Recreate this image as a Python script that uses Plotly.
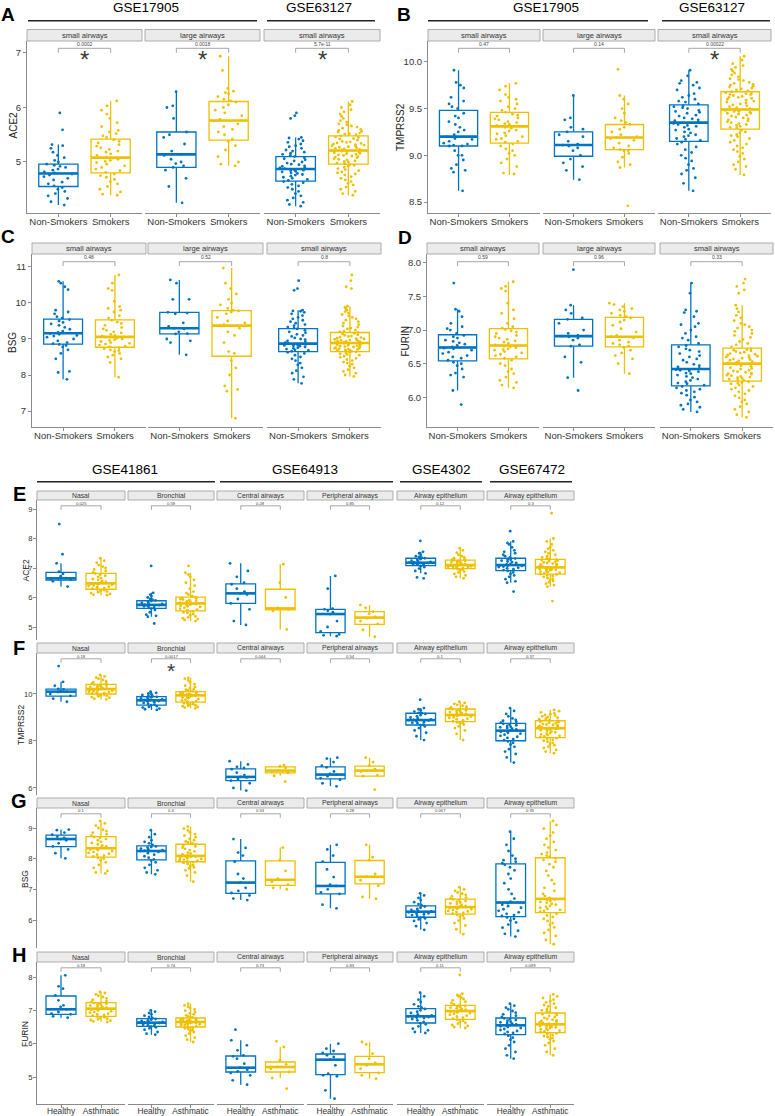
import plotly.graph_objects as go

W, H = 775, 1116
FONT = "Liberation Sans, Arial, sans-serif"
COLORS = ["#0073C2", "#EFC000"]
GREY = "#8a8a8a"

# ---------------- categories / labels ----------------
smoke_groups = ["Non-Smokers", "Smokers"]
asthma_groups = ["Healthy", "Asthmatic"]
smoke_facets = ["small airways", "large airways", "small airways"]
asthma_facets = ["Nasal", "Bronchial", "Central airways", "Peripheral airways",
                 "Airway epithelium", "Airway epithelium"]
genes = ["ACE2", "TMPRSS2", "BSG", "FURIN"]
smoke_datasets = ["GSE17905", "GSE63127"]
asthma_datasets = ["GSE41861", "GSE64913", "GSE4302", "GSE67472"]

# ---------------- p-values and significance stars ----------------
A_p = ["0.0002", "0.0018", "5.7e-11"]; A_star = [1, 1, 1]
B_p = ["0.47", "0.14", "0.00022"]; B_star = [0, 0, 1]
C_p = ["0.48", "0.52", "0.8"]; C_star = [0, 0, 0]
D_p = ["0.59", "0.96", "0.33"]; D_star = [0, 0, 0]
E_p = ["0.025", "0.59", "0.28", "0.85", "0.12", "0.3"]; E_star = [0, 0, 0, 0, 0, 0]
F_p = ["0.18", "0.0017", "0.044", "0.54", "0.1", "0.37"]; F_star = [0, 1, 0, 0, 0, 0]
G_p = ["0.1", "0.4", "0.53", "0.28", "0.067", "0.35"]; G_star = [0, 0, 0, 0, 0, 0]
H_p = ["0.18", "0.74", "0.73", "0.83", "0.11", "0.099"]; H_star = [0, 0, 0, 0, 0, 0]

# ---------------- box statistics (order: group0, group1 per facet) ----------------
A_lf = [4.21, 4.39, 4.25, 4.93, 4.19, 4.39]
A_q1 = [4.55, 4.80, 4.90, 5.40, 4.65, 4.96]
A_med = [4.79, 5.08, 5.14, 5.76, 4.87, 5.21]
A_q3 = [4.96, 5.42, 5.55, 6.11, 5.10, 5.48]
A_uf = [5.32, 6.12, 6.29, 6.94, 5.45, 6.11]

B_lf = [8.62, 8.79, 8.74, 8.87, 8.62, 8.79]
B_q1 = [9.10, 9.13, 8.99, 9.06, 9.15, 9.28]
B_med = [9.20, 9.31, 9.11, 9.19, 9.35, 9.49]
B_q3 = [9.48, 9.46, 9.25, 9.33, 9.54, 9.68]
B_uf = [9.91, 9.77, 9.64, 9.64, 9.91, 10.06]

C_lf = [7.88, 7.94, 8.56, 6.80, 7.77, 7.96]
C_q1 = [8.86, 8.77, 9.14, 8.52, 8.65, 8.65]
C_med = [9.16, 9.06, 9.30, 9.37, 8.87, 8.89]
C_q3 = [9.55, 9.53, 9.74, 9.79, 9.29, 9.18]
C_uf = [10.60, 10.78, 10.64, 10.97, 9.80, 9.91]

D_lf = [6.10, 6.14, 6.29, 6.35, 5.78, 5.70]
D_q1 = [6.54, 6.57, 6.76, 6.75, 6.17, 6.24]
D_med = [6.74, 6.77, 6.91, 6.90, 6.42, 6.50]
D_q3 = [6.93, 7.02, 7.16, 7.19, 6.78, 6.73]
D_uf = [7.31, 7.72, 7.37, 7.40, 7.70, 7.37]

E_lf = [6.37, 6.08, 5.35, 5.20, 5.07, 4.92, 4.69, 4.67, 6.82, 6.65, 6.50, 6.37]
E_q1 = [6.59, 6.28, 5.63, 5.55, 5.80, 5.58, 4.81, 5.09, 7.08, 6.98, 6.91, 6.79]
E_med = [6.65, 6.48, 5.75, 5.80, 6.14, 5.63, 5.44, 5.32, 7.18, 7.10, 7.10, 7.02]
E_q3 = [6.85, 6.82, 5.89, 6.01, 6.46, 6.28, 5.60, 5.52, 7.33, 7.27, 7.33, 7.29]
E_uf = [7.16, 7.33, 6.16, 6.84, 7.16, 7.13, 6.73, 5.75, 7.55, 7.67, 7.90, 8.00]

F_lf = [9.67, 9.77, 9.32, 9.39, 5.89, 6.52, 6.07, 6.50, 8.04, 8.04, 7.08, 7.48]
F_q1 = [9.91, 10.00, 9.53, 9.65, 6.31, 6.64, 6.39, 6.50, 8.68, 8.82, 8.01, 8.14]
F_med = [10.10, 10.21, 9.73, 9.94, 6.47, 6.74, 6.57, 6.74, 8.89, 9.11, 8.44, 8.54]
F_q3 = [10.21, 10.41, 9.89, 10.10, 6.81, 6.90, 6.90, 6.93, 9.18, 9.36, 8.75, 8.86]
F_uf = [10.52, 10.81, 10.10, 10.69, 7.14, 6.97, 7.29, 7.29, 9.40, 9.67, 9.40, 9.32]

G_lf = [8.01, 7.52, 7.49, 7.25, 6.65, 7.00, 6.38, 6.69, 5.68, 5.54, 5.46, 5.21]
G_q1 = [8.39, 8.05, 7.96, 7.90, 6.87, 7.13, 6.85, 7.18, 6.09, 6.19, 6.11, 6.24]
G_med = [8.64, 8.34, 8.25, 8.09, 7.22, 7.31, 7.11, 7.41, 6.27, 6.42, 6.57, 6.69]
G_q3 = [8.77, 8.72, 8.42, 8.47, 7.93, 7.93, 7.88, 7.94, 6.46, 6.68, 7.83, 8.03]
G_uf = [8.95, 9.23, 8.93, 9.04, 8.64, 8.36, 8.45, 8.45, 6.87, 7.07, 8.88, 9.23]

H_lf = [6.78, 6.65, 6.27, 6.05, 4.77, 4.97, 4.35, 4.95, 6.32, 6.47, 5.55, 5.65]
H_q1 = [6.88, 6.82, 6.52, 6.50, 5.15, 5.15, 5.07, 5.13, 6.62, 6.73, 6.27, 6.33]
H_med = [7.03, 7.05, 6.63, 6.65, 5.28, 5.30, 5.52, 5.38, 6.82, 6.98, 6.55, 6.58]
H_q3 = [7.43, 7.23, 6.75, 6.77, 5.63, 5.45, 5.69, 5.62, 7.05, 7.15, 6.77, 6.92]
H_uf = [8.05, 7.55, 7.00, 7.20, 6.10, 5.90, 6.00, 6.05, 7.53, 7.50, 7.20, 7.48]

# ---------------- sample points ----------------
# A: ACE2, smokers
A_ns1 = [4.21, 4.27, 4.33, 4.38, 4.42, 4.46, 4.5, 4.53, 4.56, 4.6, 4.63, 4.67, 4.7, 4.73, 4.76, 4.78, 4.8, 4.82, 4.85,
         4.87, 4.9, 4.92, 4.94, 4.96, 5.0, 5.03, 5.08, 5.12, 5.18, 5.25, 5.3, 5.32, 5.59, 5.9]
A_s1 = [4.39, 4.41, 4.45, 4.5, 4.55, 4.6, 4.64, 4.68, 4.72, 4.75, 4.78, 4.81, 4.84, 4.87, 4.9, 4.93, 4.96, 4.99, 5.01,
        5.03, 5.05, 5.07, 5.09, 5.12, 5.15, 5.18, 5.2, 5.23, 5.26, 5.29, 5.32, 5.35, 5.38, 5.41, 5.45, 5.48, 5.52, 5.55,
        5.58, 5.65, 5.72, 5.8, 5.88, 5.95, 6.03, 6.12]
A_ns2 = [4.25, 4.55, 4.7, 4.85, 4.9, 4.93, 4.97, 5.0, 5.05, 5.12, 5.14, 5.2, 5.33, 5.45, 5.5, 5.55, 5.8, 6.0, 6.03, 6.29]
A_s2 = [4.93, 4.96, 5.0, 5.1, 5.22, 5.3, 5.38, 5.42, 5.5, 5.55, 5.6, 5.65, 5.7, 5.75, 5.78, 5.85, 5.9, 5.95, 6.0, 6.05,
        6.1, 6.12, 6.15, 6.2, 6.25, 6.27, 6.3, 6.35, 6.68, 6.94]
A_ns3 = [4.19, 4.22, 4.26, 4.3, 4.34, 4.38, 4.42, 4.46, 4.5, 4.53, 4.56, 4.59, 4.62, 4.64, 4.66, 4.68, 4.7, 4.72, 4.74,
         4.76, 4.77, 4.79, 4.8, 4.82, 4.83, 4.84, 4.85, 4.86, 4.88, 4.89, 4.9, 4.92, 4.93, 4.95, 4.96, 4.98, 5.0, 5.02,
         5.04, 5.06, 5.08, 5.1, 5.12, 5.14, 5.16, 5.18, 5.2, 5.22, 5.25, 5.28, 5.3, 5.33, 5.36, 5.39, 5.42, 5.44, 5.45,
         5.8, 5.85, 5.9]
A_s3 = [4.39, 4.42, 4.46, 4.5, 4.54, 4.58, 4.61, 4.64, 4.67, 4.7, 4.73, 4.76, 4.78, 4.8, 4.82, 4.84, 4.86, 4.88, 4.9,
        4.92, 4.94, 4.95, 4.97, 4.98, 5.0, 5.01, 5.02, 5.04, 5.05, 5.06, 5.08, 5.09, 5.1, 5.11, 5.12, 5.13, 5.14, 5.15,
        5.16, 5.17, 5.18, 5.19, 5.2, 5.21, 5.22, 5.23, 5.24, 5.25, 5.26, 5.27, 5.28, 5.29, 5.3, 5.31, 5.32, 5.33, 5.34,
        5.35, 5.36, 5.37, 5.38, 5.4, 5.42, 5.43, 5.45, 5.46, 5.48, 5.5, 5.51, 5.52, 5.53, 5.55, 5.56, 5.58, 5.6, 5.62,
        5.64, 5.66, 5.68, 5.7, 5.73, 5.76, 5.8, 5.84, 5.88, 5.92, 5.96, 6.0, 6.05, 6.11]
# B: TMPRSS2, smokers
B_ns1 = [8.62, 8.82, 8.84, 8.86, 8.9, 8.95, 9.0, 9.0, 9.05, 9.1, 9.1, 9.11, 9.12, 9.13, 9.15, 9.17, 9.18, 9.2, 9.22,
         9.25, 9.27, 9.3, 9.33, 9.36, 9.4, 9.42, 9.45, 9.5, 9.52, 9.55, 9.58, 9.62, 9.72, 9.75, 9.78, 9.91]
B_s1 = [8.8, 8.81, 8.88, 8.92, 8.96, 9.0, 9.02, 9.05, 9.07, 9.1, 9.12, 9.14, 9.15, 9.17, 9.18, 9.2, 9.21, 9.23, 9.24,
        9.26, 9.27, 9.29, 9.3, 9.32, 9.33, 9.34, 9.35, 9.36, 9.38, 9.39, 9.4, 9.42, 9.43, 9.44, 9.46, 9.48, 9.5, 9.52,
        9.55, 9.58, 9.6, 9.62, 9.65, 9.7, 9.74, 9.77]
B_ns2 = [8.74, 8.84, 8.88, 8.92, 8.96, 9.0, 9.05, 9.08, 9.1, 9.11, 9.12, 9.15, 9.2, 9.22, 9.25, 9.28, 9.3, 9.38, 9.4, 9.64]
B_s2 = [8.46, 8.87, 8.9, 8.93, 8.98, 9.02, 9.05, 9.05, 9.06, 9.08, 9.1, 9.13, 9.16, 9.18, 9.19, 9.2, 9.22, 9.25, 9.28,
        9.3, 9.33, 9.35, 9.37, 9.4, 9.45, 9.5, 9.55, 9.6, 9.64, 9.92]
B_ns3 = [8.62, 8.7, 8.76, 8.8, 8.84, 8.86, 8.9, 8.94, 8.97, 9.0, 9.03, 9.06, 9.09, 9.12, 9.14, 9.16, 9.17, 9.18, 9.2,
         9.21, 9.22, 9.24, 9.25, 9.27, 9.28, 9.3, 9.31, 9.32, 9.33, 9.34, 9.36, 9.37, 9.38, 9.39, 9.4, 9.42, 9.43, 9.45,
         9.46, 9.47, 9.48, 9.5, 9.51, 9.52, 9.53, 9.55, 9.57, 9.58, 9.6, 9.62, 9.64, 9.66, 9.7, 9.72, 9.75, 9.77, 9.78,
         9.8, 9.85, 9.91]
B_s3 = [8.79, 8.85, 8.88, 8.9, 8.93, 8.96, 8.99, 9.02, 9.04, 9.06, 9.08, 9.1, 9.12, 9.14, 9.16, 9.18, 9.2, 9.21, 9.22,
        9.24, 9.25, 9.27, 9.29, 9.3, 9.31, 9.32, 9.33, 9.34, 9.35, 9.36, 9.37, 9.38, 9.39, 9.4, 9.41, 9.42, 9.43, 9.44,
        9.45, 9.45, 9.46, 9.47, 9.47, 9.48, 9.49, 9.5, 9.51, 9.52, 9.53, 9.54, 9.55, 9.56, 9.57, 9.58, 9.59, 9.6, 9.61,
        9.62, 9.62, 9.63, 9.64, 9.65, 9.65, 9.66, 9.66, 9.67, 9.68, 9.69, 9.7, 9.71, 9.72, 9.73, 9.74, 9.75, 9.76, 9.77,
        9.78, 9.8, 9.81, 9.82, 9.84, 9.86, 9.88, 9.9, 9.92, 9.94, 9.96, 9.98, 10.02, 10.06]
# C: BSG, smokers
C_ns1 = [7.88, 8.07, 8.1, 8.45, 8.6, 8.7, 8.78, 8.82, 8.85, 8.87, 8.9, 8.95, 9.0, 9.05, 9.08, 9.1, 9.13, 9.15, 9.18,
         9.22, 9.27, 9.32, 9.38, 9.42, 9.46, 9.5, 9.54, 9.58, 9.62, 9.7, 9.75, 9.8, 10.37, 10.45, 10.55, 10.6]
C_s1 = [7.94, 8.35, 8.45, 8.5, 8.55, 8.6, 8.65, 8.68, 8.7, 8.73, 8.76, 8.78, 8.8, 8.83, 8.86, 8.88, 8.9, 8.93, 8.96,
        8.98, 9.0, 9.02, 9.05, 9.08, 9.1, 9.13, 9.17, 9.2, 9.24, 9.28, 9.32, 9.38, 9.43, 9.47, 9.52, 9.58, 9.65, 9.75,
        9.8, 9.85, 9.9, 10.05, 10.35, 10.4, 10.55, 10.78]
C_ns2 = [8.56, 8.9, 8.95, 9.0, 9.14, 9.15, 9.2, 9.28, 9.3, 9.35, 9.45, 9.7, 9.72, 9.74, 10.1, 10.1, 10.55, 10.64]
C_s2 = [6.8, 7.55, 7.6, 7.7, 8.0, 8.2, 8.4, 8.6, 8.65, 8.9, 9.1, 9.2, 9.3, 9.37, 9.4, 9.45, 9.5, 9.6, 9.7, 9.75, 9.78,
        9.8, 9.85, 9.95, 10.0, 10.1, 10.25, 10.4, 10.55, 10.97]
C_ns3 = [7.77, 7.88, 7.95, 8.05, 8.12, 8.2, 8.28, 8.33, 8.4, 8.45, 8.5, 8.55, 8.6, 8.63, 8.66, 8.68, 8.7, 8.72, 8.74,
         8.76, 8.78, 8.8, 8.81, 8.82, 8.83, 8.84, 8.85, 8.86, 8.88, 8.9, 8.92, 8.95, 8.98, 9.0, 9.03, 9.07, 9.1, 9.13,
         9.17, 9.2, 9.24, 9.28, 9.3, 9.33, 9.37, 9.4, 9.44, 9.48, 9.52, 9.56, 9.6, 9.65, 9.7, 9.74, 9.77, 9.78, 9.8,
         10.35, 10.4, 10.62]
C_s3 = [7.96, 8.0, 8.05, 8.1, 8.15, 8.2, 8.25, 8.3, 8.33, 8.36, 8.4, 8.43, 8.46, 8.49, 8.52, 8.55, 8.57, 8.59, 8.61,
        8.63, 8.64, 8.66, 8.67, 8.68, 8.69, 8.7, 8.71, 8.72, 8.73, 8.74, 8.75, 8.76, 8.77, 8.78, 8.79, 8.8, 8.81, 8.82,
        8.83, 8.84, 8.85, 8.87, 8.88, 8.9, 8.91, 8.92, 8.93, 8.94, 8.95, 8.96, 8.97, 8.98, 8.99, 9.0, 9.01, 9.02, 9.04,
        9.05, 9.07, 9.08, 9.1, 9.12, 9.14, 9.16, 9.18, 9.2, 9.22, 9.25, 9.28, 9.3, 9.33, 9.36, 9.4, 9.44, 9.48, 9.52,
        9.56, 9.6, 9.64, 9.68, 9.72, 9.76, 9.8, 9.84, 9.88, 9.91, 10.4, 10.45, 10.62, 10.78]
# D: FURIN, smokers
D_ns1 = [5.89, 6.1, 6.3, 6.33, 6.36, 6.42, 6.47, 6.5, 6.52, 6.55, 6.58, 6.6, 6.62, 6.65, 6.67, 6.7, 6.72, 6.73, 6.75,
         6.77, 6.79, 6.81, 6.83, 6.85, 6.88, 6.9, 6.92, 6.95, 7.0, 7.02, 7.05, 7.1, 7.2, 7.28, 7.31, 7.7]
D_s1 = [6.14, 6.18, 6.22, 6.25, 6.3, 6.35, 6.38, 6.42, 6.47, 6.5, 6.55, 6.58, 6.6, 6.62, 6.64, 6.66, 6.68, 6.7, 6.71,
        6.72, 6.74, 6.75, 6.76, 6.78, 6.8, 6.82, 6.84, 6.86, 6.88, 6.9, 6.92, 6.95, 6.97, 6.99, 7.01, 7.03, 7.05, 7.1,
        7.17, 7.25, 7.3, 7.4, 7.58, 7.62, 7.65, 7.72]
D_ns2 = [6.1, 6.29, 6.52, 6.6, 6.76, 6.78, 6.85, 6.88, 6.9, 6.91, 6.92, 6.95, 7.0, 7.1, 7.16, 7.18, 7.25, 7.3, 7.37, 7.9]
D_s2 = [6.35, 6.5, 6.57, 6.62, 6.66, 6.7, 6.74, 6.76, 6.78, 6.8, 6.82, 6.85, 6.88, 6.9, 6.92, 6.97, 7.02, 7.07, 7.12,
        7.15, 7.18, 7.2, 7.22, 7.25, 7.28, 7.3, 7.32, 7.35, 7.38, 7.4]
D_ns3 = [5.78, 5.82, 5.85, 5.88, 5.9, 5.93, 5.96, 6.0, 6.03, 6.06, 6.08, 6.1, 6.12, 6.14, 6.16, 6.18, 6.2, 6.21, 6.23,
         6.25, 6.27, 6.29, 6.31, 6.33, 6.35, 6.36, 6.38, 6.39, 6.4, 6.41, 6.43, 6.45, 6.47, 6.49, 6.52, 6.55, 6.57, 6.6,
         6.62, 6.65, 6.68, 6.7, 6.72, 6.75, 6.77, 6.8, 6.85, 6.88, 6.9, 6.95, 7.0, 7.05, 7.08, 7.1, 7.2, 7.26, 7.28,
         7.3, 7.55, 7.7]
D_s3 = [5.7, 5.74, 5.78, 5.82, 5.86, 5.9, 5.93, 5.96, 5.99, 6.02, 6.05, 6.08, 6.1, 6.12, 6.14, 6.16, 6.18, 6.2, 6.21,
        6.22, 6.23, 6.25, 6.26, 6.27, 6.28, 6.29, 6.3, 6.31, 6.32, 6.33, 6.34, 6.35, 6.36, 6.37, 6.38, 6.39, 6.4, 6.42,
        6.43, 6.44, 6.46, 6.47, 6.49, 6.51, 6.52, 6.53, 6.54, 6.55, 6.56, 6.57, 6.58, 6.59, 6.6, 6.61, 6.62, 6.63, 6.64,
        6.65, 6.66, 6.67, 6.68, 6.69, 6.7, 6.71, 6.72, 6.75, 6.78, 6.8, 6.83, 6.86, 6.89, 6.92, 6.95, 6.98, 7.0, 7.03,
        7.05, 7.08, 7.1, 7.14, 7.18, 7.22, 7.27, 7.32, 7.37, 7.55, 7.6, 7.65, 7.7, 7.76]
# E: ACE2, asthma
E_h1 = [6.37, 6.55, 6.6, 6.63, 6.65, 6.66, 6.72, 6.8, 6.88, 7.16, 7.47, 8.49]
E_a1 = [6.08, 6.1, 6.12, 6.15, 6.18, 6.2, 6.22, 6.25, 6.27, 6.3, 6.32, 6.35, 6.37, 6.39, 6.41, 6.43, 6.45, 6.46, 6.47,
        6.5, 6.53, 6.56, 6.6, 6.63, 6.66, 6.7, 6.74, 6.78, 6.81, 6.85, 6.9, 6.95, 7.0, 7.05, 7.1, 7.18, 7.25, 7.33]
E_h2 = [5.12, 5.35, 5.38, 5.42, 5.5, 5.58, 5.62, 5.65, 5.68, 5.7, 5.72, 5.73, 5.74, 5.75, 5.76, 5.78, 5.8, 5.82, 5.85,
        5.88, 5.9, 5.93, 5.95, 6.0, 6.05, 6.1, 6.16, 7.07]
E_a2 = [5.2, 5.24, 5.27, 5.3, 5.33, 5.36, 5.4, 5.44, 5.48, 5.5, 5.53, 5.56, 5.59, 5.62, 5.65, 5.68, 5.7, 5.72, 5.74,
        5.76, 5.78, 5.79, 5.81, 5.83, 5.85, 5.87, 5.89, 5.91, 5.93, 5.95, 5.97, 5.99, 6.0, 6.05, 6.1, 6.15, 6.2, 6.3,
        6.4, 6.5, 6.6, 6.7, 6.78, 6.84, 7.07]
E_h3 = [5.07, 5.2, 5.6, 5.8, 5.95, 6.1, 6.14, 6.2, 6.3, 6.45, 6.5, 6.7, 6.9, 7.16]
E_a3 = [4.92, 5.55, 5.6, 5.62, 5.65, 6.0, 6.5, 7.13]
E_h4 = [4.69, 4.72, 4.75, 4.85, 5.0, 5.2, 5.44, 5.5, 5.55, 5.6, 5.62, 6.3, 6.73]
E_a4 = [4.67, 4.9, 5.1, 5.2, 5.3, 5.34, 5.45, 5.52, 5.65, 5.75]
E_h5 = [6.65, 6.68, 6.82, 6.9, 6.98, 7.03, 7.07, 7.09, 7.11, 7.13, 7.14, 7.15, 7.17, 7.18, 7.2, 7.21, 7.22, 7.25, 7.28,
        7.3, 7.33, 7.35, 7.38, 7.4, 7.45, 7.5, 7.55, 7.92]
E_a5 = [6.65, 6.7, 6.75, 6.8, 6.85, 6.88, 6.92, 6.95, 6.97, 6.99, 7.0, 7.02, 7.03, 7.04, 7.05, 7.06, 7.07, 7.08, 7.09,
        7.11, 7.13, 7.15, 7.17, 7.19, 7.2, 7.22, 7.24, 7.25, 7.26, 7.28, 7.3, 7.33, 7.36, 7.4, 7.45, 7.52, 7.6, 7.67]
E_h6 = [6.2, 6.5, 6.55, 6.62, 6.7, 6.75, 6.8, 6.85, 6.9, 6.93, 6.96, 6.99, 7.01, 7.03, 7.05, 7.07, 7.08, 7.09, 7.12,
        7.14, 7.17, 7.2, 7.22, 7.25, 7.28, 7.3, 7.32, 7.36, 7.4, 7.45, 7.5, 7.55, 7.6, 7.7, 7.8, 7.85, 7.9, 8.25]
E_a6 = [5.88, 6.37, 6.42, 6.47, 6.52, 6.56, 6.6, 6.63, 6.66, 6.7, 6.73, 6.75, 6.78, 6.8, 6.82, 6.84, 6.86, 6.88, 6.9,
        6.92, 6.94, 6.95, 6.96, 6.97, 6.98, 7.0, 7.01, 7.03, 7.05, 7.07, 7.09, 7.11, 7.13, 7.15, 7.17, 7.19, 7.21, 7.23,
        7.25, 7.27, 7.28, 7.3, 7.33, 7.36, 7.4, 7.45, 7.5, 7.55, 7.6, 7.65, 7.7, 7.8, 7.9, 8.0, 8.86]
# F: TMPRSS2, asthma
F_h1 = [9.67, 9.8, 9.92, 10.0, 10.08, 10.1, 10.12, 10.2, 10.22, 10.35, 10.52, 11.19]
F_a1 = [9.77, 9.8, 9.84, 9.87, 9.9, 9.93, 9.95, 9.97, 9.99, 10.02, 10.04, 10.06, 10.08, 10.1, 10.12, 10.14, 10.16,
        10.18, 10.2, 10.22, 10.24, 10.26, 10.28, 10.3, 10.32, 10.34, 10.36, 10.38, 10.4, 10.43, 10.46, 10.5, 10.55,
        10.6, 10.65, 10.7, 10.75, 10.81]
F_h2 = [9.32, 9.35, 9.38, 9.42, 9.45, 9.48, 9.52, 9.55, 9.58, 9.62, 9.65, 9.68, 9.7, 9.73, 9.75, 9.77, 9.79, 9.81, 9.84,
        9.86, 9.88, 9.9, 9.93, 9.96, 9.99, 10.02, 10.05, 10.1]
F_a2 = [9.39, 9.42, 9.45, 9.48, 9.5, 9.52, 9.55, 9.57, 9.59, 9.61, 9.63, 9.67, 9.7, 9.73, 9.76, 9.79, 9.82, 9.85, 9.87,
        9.89, 9.91, 9.93, 9.95, 9.96, 9.97, 9.98, 9.99, 10.0, 10.02, 10.04, 10.06, 10.08, 10.09, 10.12, 10.15, 10.18,
        10.21, 10.25, 10.3, 10.35, 10.42, 10.5, 10.58, 10.65, 10.69]
F_h3 = [5.89, 6.0, 6.2, 6.31, 6.38, 6.45, 6.47, 6.55, 6.65, 6.8, 6.85, 6.9, 7.0, 7.14]
F_a3 = [6.27, 6.52, 6.65, 6.72, 6.75, 6.85, 6.92, 6.97]
F_h4 = [6.07, 6.2, 6.35, 6.42, 6.5, 6.57, 6.6, 6.7, 6.88, 6.95, 7.1, 7.25, 7.29]
F_a4 = [5.93, 6.5, 6.55, 6.7, 6.74, 6.8, 6.95, 7.1, 7.29]
F_h5 = [8.04, 8.2, 8.35, 8.45, 8.55, 8.62, 8.67, 8.7, 8.75, 8.78, 8.8, 8.84, 8.87, 8.89, 8.9, 8.92, 8.96, 9.0, 9.05,
        9.1, 9.15, 9.18, 9.2, 9.25, 9.3, 9.35, 9.4, 9.76]
F_a5 = [8.04, 8.3, 8.45, 8.55, 8.62, 8.7, 8.75, 8.78, 8.8, 8.84, 8.88, 8.92, 8.95, 8.98, 9.01, 9.04, 9.06, 9.08, 9.1,
        9.13, 9.15, 9.18, 9.2, 9.23, 9.25, 9.28, 9.3, 9.33, 9.35, 9.38, 9.4, 9.43, 9.46, 9.5, 9.54, 9.58, 9.62, 9.67]
F_h6 = [7.08, 7.3, 7.45, 7.55, 7.65, 7.75, 7.85, 7.92, 7.98, 8.03, 8.08, 8.13, 8.18, 8.22, 8.27, 8.31, 8.35, 8.39, 8.42,
        8.46, 8.49, 8.52, 8.55, 8.58, 8.61, 8.64, 8.67, 8.7, 8.73, 8.78, 8.82, 8.86, 8.9, 8.96, 9.05, 9.15, 9.28, 9.4]
F_a6 = [7.48, 7.55, 7.62, 7.7, 7.76, 7.82, 7.87, 7.92, 7.97, 8.01, 8.05, 8.09, 8.12, 8.16, 8.19, 8.22, 8.25, 8.28, 8.31,
        8.34, 8.37, 8.4, 8.43, 8.46, 8.48, 8.5, 8.52, 8.56, 8.58, 8.6, 8.62, 8.64, 8.66, 8.68, 8.7, 8.72, 8.75, 8.78,
        8.8, 8.82, 8.85, 8.88, 8.9, 8.93, 8.96, 8.99, 9.02, 9.05, 9.08, 9.11, 9.14, 9.18, 9.22, 9.27, 9.32]
# G: BSG, asthma
G_h1 = [8.01, 8.18, 8.3, 8.4, 8.5, 8.6, 8.64, 8.68, 8.72, 8.78, 8.85, 8.93, 8.95]
G_a1 = [7.52, 7.55, 7.6, 7.7, 7.8, 7.88, 7.95, 8.0, 8.03, 8.07, 8.1, 8.13, 8.16, 8.19, 8.22, 8.25, 8.28, 8.3, 8.32,
        8.36, 8.4, 8.43, 8.47, 8.51, 8.55, 8.6, 8.64, 8.68, 8.71, 8.75, 8.8, 8.85, 8.9, 8.95, 9.0, 9.08, 9.15, 9.23]
G_h2 = [7.49, 7.55, 7.62, 7.7, 7.8, 7.88, 7.94, 7.98, 8.03, 8.08, 8.13, 8.18, 8.22, 8.25, 8.26, 8.28, 8.3, 8.33, 8.36,
        8.38, 8.4, 8.45, 8.5, 8.55, 8.6, 8.7, 8.8, 8.93]
G_a2 = [7.25, 7.45, 7.55, 7.62, 7.68, 7.72, 7.76, 7.8, 7.83, 7.86, 7.89, 7.91, 7.93, 7.95, 7.97, 7.99, 8.01, 8.03,
        8.04, 8.06, 8.07, 8.08, 8.11, 8.14, 8.17, 8.2, 8.24, 8.28, 8.32, 8.36, 8.4, 8.43, 8.46, 8.5, 8.53, 8.56, 8.6,
        8.65, 8.7, 8.75, 8.8, 8.86, 8.92, 8.98, 9.04]
G_h3 = [6.65, 6.7, 6.8, 6.88, 6.95, 7.05, 7.22, 7.35, 7.5, 7.9, 8.1, 8.2, 8.35, 8.64]
G_a3 = [7.0, 7.05, 7.15, 7.25, 7.35, 7.6, 7.95, 8.36]
G_h4 = [6.38, 6.5, 6.85, 6.9, 7.0, 7.11, 7.15, 7.4, 7.65, 7.9, 8.1, 8.3, 8.45]
G_a4 = [6.69, 6.75, 7.12, 7.3, 7.41, 7.5, 7.95, 8.05, 8.45]
G_h5 = [5.68, 5.8, 5.9, 5.97, 6.02, 6.05, 6.08, 6.1, 6.13, 6.16, 6.19, 6.2, 6.22, 6.25, 6.27, 6.28, 6.3, 6.33, 6.36,
        6.4, 6.44, 6.48, 6.52, 6.58, 6.65, 6.72, 6.8, 6.87]
G_a5 = [5.54, 5.7, 5.82, 5.9, 5.98, 6.05, 6.1, 6.14, 6.17, 6.21, 6.23, 6.26, 6.28, 6.3, 6.33, 6.35, 6.37, 6.39, 6.41,
        6.44, 6.46, 6.49, 6.52, 6.54, 6.57, 6.6, 6.62, 6.65, 6.67, 6.7, 6.73, 6.77, 6.82, 6.86, 6.9, 6.95, 7.0, 7.07]
G_h6 = [5.46, 5.55, 5.65, 5.75, 5.85, 5.92, 5.98, 6.04, 6.08, 6.13, 6.16, 6.2, 6.25, 6.3, 6.35, 6.4, 6.45, 6.5, 6.55,
        6.6, 6.7, 6.85, 7.0, 7.2, 7.35, 7.5, 7.62, 7.72, 7.8, 7.85, 7.9, 7.95, 8.0, 8.1, 8.25, 8.45, 8.65, 8.88]
G_a6 = [5.21, 5.35, 5.48, 5.58, 5.68, 5.76, 5.84, 5.9, 5.97, 6.04, 6.1, 6.15, 6.2, 6.27, 6.3, 6.33, 6.36, 6.4, 6.43,
        6.46, 6.5, 6.53, 6.56, 6.59, 6.62, 6.65, 6.67, 6.72, 6.78, 6.85, 6.95, 7.05, 7.18, 7.3, 7.45, 7.6, 7.72, 7.82,
        7.9, 7.96, 8.01, 8.06, 8.1, 8.15, 8.2, 8.28, 8.36, 8.45, 8.55, 8.65, 8.75, 8.85, 8.98, 9.1, 9.23]
# H: FURIN, asthma
H_h1 = [6.78, 6.82, 6.88, 6.9, 6.95, 7.03, 7.1, 7.15, 7.3, 7.45, 7.65, 7.72, 8.05]
H_a1 = [6.65, 6.67, 6.69, 6.71, 6.73, 6.75, 6.77, 6.79, 6.81, 6.84, 6.86, 6.88, 6.9, 6.93, 6.95, 6.97, 7.0, 7.02, 7.04,
        7.06, 7.08, 7.1, 7.12, 7.14, 7.16, 7.18, 7.2, 7.21, 7.22, 7.25, 7.28, 7.32, 7.36, 7.4, 7.44, 7.48, 7.52, 7.55]
H_h2 = [6.27, 6.3, 6.35, 6.42, 6.46, 6.49, 6.51, 6.53, 6.55, 6.57, 6.59, 6.61, 6.62, 6.63, 6.64, 6.65, 6.66, 6.68, 6.7,
        6.72, 6.74, 6.77, 6.8, 6.84, 6.88, 6.92, 6.96, 7.0]
H_a2 = [6.05, 6.12, 6.18, 6.24, 6.3, 6.35, 6.38, 6.41, 6.44, 6.46, 6.48, 6.51, 6.53, 6.55, 6.56, 6.58, 6.59, 6.6, 6.61,
        6.62, 6.63, 6.64, 6.66, 6.67, 6.68, 6.69, 6.7, 6.71, 6.72, 6.73, 6.74, 6.75, 6.76, 6.79, 6.82, 6.85, 6.88, 6.91,
        6.95, 6.99, 7.03, 7.07, 7.11, 7.15, 7.2]
H_h3 = [4.77, 4.9, 5.05, 5.12, 5.17, 5.22, 5.28, 5.4, 5.55, 5.62, 5.65, 5.8, 5.95, 6.1, 6.42]
H_a3 = [4.65, 4.97, 5.15, 5.25, 5.3, 5.38, 5.5, 5.9, 6.07]
H_h4 = [4.35, 4.6, 5.02, 5.05, 5.1, 5.35, 5.52, 5.6, 5.65, 5.72, 5.78, 5.85, 6.0]
H_a4 = [4.95, 5.05, 5.12, 5.25, 5.35, 5.42, 5.55, 5.7, 5.98, 6.05]
H_h5 = [6.32, 6.35, 6.4, 6.45, 6.52, 6.58, 6.61, 6.65, 6.7, 6.74, 6.77, 6.78, 6.8, 6.82, 6.83, 6.85, 6.88, 6.92, 6.96,
        7.0, 7.04, 7.08, 7.12, 7.18, 7.25, 7.32, 7.42, 7.53]
H_a5 = [6.47, 6.5, 6.53, 6.56, 6.6, 6.63, 6.66, 6.69, 6.72, 6.75, 6.78, 6.81, 6.84, 6.87, 6.9, 6.92, 6.94, 6.96, 6.97,
        7.0, 7.02, 7.04, 7.06, 7.08, 7.1, 7.12, 7.13, 7.14, 7.18, 7.22, 7.26, 7.3, 7.34, 7.38, 7.42, 7.46, 7.5, 8.06]
H_h6 = [5.55, 5.65, 5.75, 5.85, 5.95, 6.05, 6.12, 6.18, 6.24, 6.29, 6.32, 6.35, 6.38, 6.41, 6.44, 6.47, 6.5, 6.52,
        6.54, 6.56, 6.58, 6.6, 6.62, 6.64, 6.66, 6.69, 6.71, 6.73, 6.76, 6.8, 6.84, 6.88, 6.93, 6.98, 7.03, 7.08, 7.14,
        7.2]
H_a6 = [5.65, 5.75, 5.85, 5.95, 6.02, 6.08, 6.13, 6.17, 6.2, 6.23, 6.26, 6.29, 6.31, 6.35, 6.37, 6.39, 6.41, 6.43,
        6.45, 6.47, 6.49, 6.51, 6.52, 6.53, 6.54, 6.56, 6.57, 6.6, 6.62, 6.64, 6.66, 6.68, 6.7, 6.72, 6.74, 6.77, 6.8,
        6.83, 6.86, 6.88, 6.91, 6.94, 6.97, 7.0, 7.04, 7.08, 7.12, 7.16, 7.2, 7.24, 7.28, 7.32, 7.37, 7.42, 7.48]

# ---------------- panel assembly (layout in pixels) ----------------
TOP_BRK_AB = (43.7, 48.3, 52.7, 57)
TOP_BRK_CD = (257.3, 261.7, 266, 270.5)

panels = [
    dict(letter="A", gene=genes[0], groups=smoke_groups, facets=smoke_facets,
         pts=[A_ns1, A_s1, A_ns2, A_s2, A_ns3, A_s3], stats=[A_lf, A_q1, A_med, A_q3, A_uf], pv=A_p, star=A_star,
         fx=[(27, 142), (145, 260), (264, 380)], py=(41, 213), strip=(29.5, 41), yr=(4.064, 7.22),
         ytv=[5, 6, 7], ytt=["5", "6", "7"], lpos=(8, 15), ypos=(13.5, 125), brk=TOP_BRK_AB, top=True, xlab=True),
    dict(letter="B", gene=genes[1], groups=smoke_groups, facets=smoke_facets,
         pts=[B_ns1, B_s1, B_ns2, B_s2, B_ns3, B_s3], stats=[B_lf, B_q1, B_med, B_q3, B_uf], pv=B_p, star=B_star,
         fx=[(428, 540), (543, 655), (658, 771)], py=(41, 213), strip=(29.5, 41), yr=(8.383, 10.223),
         ytv=[8.5, 9.0, 9.5, 10.0], ytt=["8.5", "9.0", "9.5", "10.0"], lpos=(404, 15), ypos=(400, 127),
         brk=TOP_BRK_AB, top=True, xlab=True),
    dict(letter="C", gene=genes[2], groups=smoke_groups, facets=smoke_facets,
         pts=[C_ns1, C_s1, C_ns2, C_s2, C_ns3, C_s3], stats=[C_lf, C_q1, C_med, C_q3, C_uf], pv=C_p, star=C_star,
         fx=[(32, 146), (148, 263), (267, 381)], py=(254, 427), strip=(243, 254), yr=(6.556, 11.36),
         ytv=[7, 8, 9, 10, 11], ytt=["7", "8", "9", "10", "11"], lpos=(8, 236), ypos=(12, 343),
         brk=TOP_BRK_CD, top=True, xlab=True),
    dict(letter="D", gene=genes[3], groups=smoke_groups, facets=smoke_facets,
         pts=[D_ns1, D_s1, D_ns2, D_s2, D_ns3, D_s3], stats=[D_lf, D_q1, D_med, D_q3, D_uf], pv=D_p, star=D_star,
         fx=[(427, 539), (543, 655), (660, 773)], py=(254, 427), strip=(243, 254), yr=(5.556, 8.133),
         ytv=[6.0, 6.5, 7.0, 7.5, 8.0], ytt=["6.0", "6.5", "7.0", "7.5", "8.0"], lpos=(405, 238), ypos=(404.5, 341),
         brk=TOP_BRK_CD, top=True, xlab=True),
]
BOT_FX = [(37, 125), (128, 214), (217, 304), (307, 393), (397, 484), (487, 574)]
bottom_specs = [
    ("E", genes[0], [E_h1, E_a1, E_h2, E_a2, E_h3, E_a3, E_h4, E_a4, E_h5, E_a5, E_h6, E_a6],
     [E_lf, E_q1, E_med, E_q3, E_uf], E_p, E_star, (500, 640), (491, 500), (4.56, 9.305), [5, 6, 7, 8, 9],
     (19, 494), (25.5, 571), False),
    ("F", genes[1], [F_h1, F_a1, F_h2, F_a2, F_h3, F_a3, F_h4, F_a4, F_h5, F_a5, F_h6, F_a6],
     [F_lf, F_q1, F_med, F_q3, F_uf], F_p, F_star, (653, 795), (643, 653), (5.70, 11.745), [6, 8, 10],
     (19, 648), (21, 725), False),
    ("G", genes[2], [G_h1, G_a1, G_h2, G_a2, G_h3, G_a3, G_h4, G_a4, G_h5, G_a5, G_h6, G_a6],
     [G_lf, G_q1, G_med, G_q3, G_uf], G_p, G_star, (808, 948), (798, 808), (5.087, 9.652), [6, 7, 8, 9],
     (19, 801), (25, 879), False),
    ("H", genes[3], [H_h1, H_a1, H_h2, H_a2, H_h3, H_a3, H_h4, H_a4, H_h5, H_a5, H_h6, H_a6],
     [H_lf, H_q1, H_med, H_q3, H_uf], H_p, H_star, (962, 1104), (952, 962), (4.19, 8.45), [5, 6, 7, 8],
     (19, 955), (25, 1034), True),
]
for (let, gene, pts, stats, pv, star, py, strip, yr, ytv, lpos, ypos, xlab) in bottom_specs:
    t = py[0]
    panels.append(dict(letter=let, gene=gene, groups=asthma_groups, facets=asthma_facets, pts=pts, stats=stats,
                       pv=pv, star=star, fx=BOT_FX, py=py, strip=strip, yr=yr, ytv=ytv,
                       ytt=[str(v) for v in ytv], lpos=lpos, ypos=ypos,
                       brk=(t + 3, t + 5.8, t + 9.8, t + 15.5), top=False, xlab=xlab))

headers = [
    (smoke_datasets[0], 146, 7, 28, 257, 20.7), (smoke_datasets[1], 319, 7, 267, 375, 20.7),
    (smoke_datasets[0], 546, 7, 428, 648, 20.7), (smoke_datasets[1], 712, 7, 662, 770, 20.7),
    (asthma_datasets[0], 125, 470, 37, 215, 481.7), (asthma_datasets[1], 305, 470, 220, 393, 481.7),
    (asthma_datasets[2], 441, 470, 400, 482, 481.7), (asthma_datasets[3], 532, 470, 490, 572, 481.7),
]


def PX(x):
    return x / W


def PY(y):
    return 1 - y / H


fig = go.Figure()
axes = {}
shapes = []
annots = []
k = 0

for P in panels:
    lf, q1, med, q3, uf = P["stats"]
    top = P["top"]
    tick_fs = 9.5 if top else 7.6
    xt_fs = 9.5 if top else 8.3
    for j, fname in enumerate(P["facets"]):
        k += 1
        xa, ya = ("x", "y") if k == 1 else (f"x{k}", f"y{k}")
        xk, yk = ("xaxis", "yaxis") if k == 1 else (f"xaxis{k}", f"yaxis{k}")
        x0, x1 = P["fx"][j]
        y0, y1 = P["py"]
        show_x = P["xlab"]
        axes[xk] = dict(domain=[PX(x0), PX(x1)], range=[-0.6, 1.6], anchor=ya, showgrid=False, zeroline=False,
                        showline=show_x, linecolor=GREY, linewidth=1,
                        ticks="outside" if show_x else "", ticklen=3, tickcolor=GREY,
                        tickvals=[0, 1], ticktext=P["groups"], showticklabels=show_x,
                        ticklabelstandoff=-3 if top else -4,
                        tickfont=dict(size=xt_fs, color="#333333", family=FONT))
        first = j == 0
        axes[yk] = dict(domain=[PY(y1), PY(y0)], range=list(P["yr"]), anchor=xa, showgrid=False, zeroline=False,
                        showline=first, linecolor=GREY, linewidth=1,
                        ticks="outside" if first else "", ticklen=3, tickcolor=GREY,
                        tickvals=P["ytv"], ticktext=P["ytt"], showticklabels=first,
                        ticklabelstandoff=0 if top else -1,
                        tickfont=dict(size=tick_fs, color="#333333", family=FONT))
        for g in range(2):
            i = 2 * j + g
            c = COLORS[g]
            fig.add_trace(go.Box(x=[g], q1=[q1[i]], median=[med[i]], q3=[q3[i]], lowerfence=[lf[i]],
                                 upperfence=[uf[i]], width=0.75, boxpoints=False, whiskerwidth=0,
                                 line=dict(color=c, width=1.3), fillcolor="rgba(255,255,255,0)",
                                 xaxis=xa, yaxis=ya, showlegend=False, hoverinfo="skip"))
            fig.add_trace(go.Scatter(x=[g - 0.375, g + 0.375], y=[med[i], med[i]], mode="lines",
                                     line=dict(color=c, width=2.6), xaxis=xa, yaxis=ya, showlegend=False,
                                     hoverinfo="skip"))
            fig.add_trace(go.Box(y=P["pts"][i], x0=g, width=0.75, boxpoints="all", jitter=0.85, pointpos=0,
                                 marker=dict(color=c, size=2.8), line=dict(width=0, color="rgba(0,0,0,0)"),
                                 fillcolor="rgba(0,0,0,0)", whiskerwidth=0,
                                 xaxis=xa, yaxis=ya, showlegend=False, hoverinfo="skip"))
        # strip
        s0, s1 = P["strip"]
        shapes.append(dict(type="rect", xref="paper", yref="paper", x0=PX(x0), x1=PX(x1), y0=PY(s1), y1=PY(s0),
                           fillcolor="#EBEBEB", line=dict(color="#9a9a9a", width=0.8), layer="above"))
        annots.append(dict(x=PX((x0 + x1) / 2), y=PY((s0 + s1) / 2), xref="paper", yref="paper", text=fname,
                           showarrow=False, xanchor="center", yanchor="middle",
                           font=dict(size=7.6 if top else 6.8, color="#333333", family=FONT)))
        # significance bracket
        bt, bl, bk, bs = P["brk"]
        for (ax0, ay0, ax1, ay1) in [(0, bl, 1, bl), (0, bl, 0, bk), (1, bl, 1, bk)]:
            shapes.append(dict(type="line", xref=xa, yref="paper", x0=ax0, x1=ax1, y0=PY(ay0), y1=PY(ay1),
                               line=dict(color="#8f8f8f", width=0.8)))
        annots.append(dict(x=0.5, y=PY(bt), xref=xa, yref="paper", text=P["pv"][j], showarrow=False,
                           xanchor="center", yanchor="middle",
                           font=dict(size=5 if top else 4.2, color="#444444", family=FONT)))
        if P["star"][j]:
            annots.append(dict(x=0.5, y=PY(bs + 2), xref=xa, yref="paper", text="*", showarrow=False,
                               xanchor="center", yanchor="middle",
                               font=dict(size=24 if top else 21, color="#3a3a3a", family=FONT)))
    # panel letter
    annots.append(dict(x=PX(P["lpos"][0]), y=PY(P["lpos"][1]), xref="paper", yref="paper",
                       text="<b>" + P["letter"] + "</b>", showarrow=False, xanchor="center", yanchor="middle",
                       font=dict(size=19 if top else 20, color="#000000", family=FONT)))
    # y-axis title
    annots.append(dict(x=PX(P["ypos"][0]), y=PY(P["ypos"][1]), xref="paper", yref="paper", text=P["gene"],
                       textangle=-90, showarrow=False, xanchor="center", yanchor="middle",
                       font=dict(size=10 if top else 8.5, color="#222222", family=FONT)))

for (txt, cx, cy, lx0, lx1, ly) in headers:
    annots.append(dict(x=PX(cx), y=PY(cy), xref="paper", yref="paper", text=txt, showarrow=False,
                       xanchor="center", yanchor="middle", font=dict(size=13.5, color="#000000", family=FONT)))
    shapes.append(dict(type="line", xref="paper", yref="paper", x0=PX(lx0), x1=PX(lx1), y0=PY(ly), y1=PY(ly),
                       line=dict(color="#222222", width=1.6)))

fig.update_layout(width=W, height=H, margin=dict(l=0, r=0, t=0, b=0), showlegend=False,
                  plot_bgcolor="white", paper_bgcolor="white", boxmode="overlay",
                  font=dict(family=FONT), shapes=shapes, annotations=annots, **axes)

fig.write_html("out.html", config={"displayModeBar": False},
               post_script="document.body.style.margin='0';document.body.style.overflow='hidden';")
